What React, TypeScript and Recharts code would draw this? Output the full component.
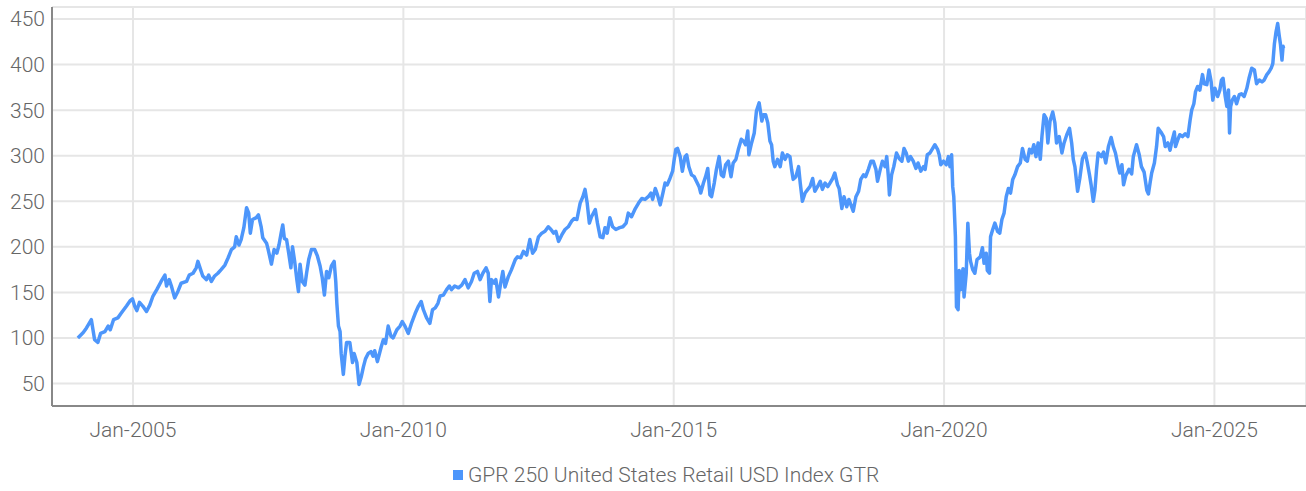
import React from "react";
import { LineChart, Line, XAxis, YAxis, CartesianGrid, Legend } from "recharts";

const SERIES_NAME = "GPR 250 United States Retail USD Index GTR";
const LINE_COLOR = "#4d96fb";

const X_TICKS = [2005, 2010, 2015, 2020, 2025];
const Y_TICKS = [50, 100, 150, 200, 250, 300, 350, 400, 450];

// time as fractional years
const times2004_2011 = [
  2003.98, 2004.08, 2004.14, 2004.23, 2004.26, 2004.29, 2004.35, 2004.4, 2004.48, 2004.54, 2004.58, 2004.64, 2004.72, 2004.78, 2004.88, 2004.95, 2004.99,
  2005.03, 2005.07, 2005.12, 2005.18, 2005.25, 2005.31, 2005.37, 2005.44, 2005.52, 2005.59, 2005.62, 2005.67, 2005.71, 2005.77, 2005.83, 2005.89, 2005.99,
  2006.04, 2006.11, 2006.17, 2006.2, 2006.25, 2006.29, 2006.36, 2006.4, 2006.45, 2006.51, 2006.57, 2006.63, 2006.7, 2006.76, 2006.82, 2006.88, 2006.91, 2006.96,
  2007.0, 2007.05, 2007.1, 2007.14, 2007.17, 2007.21, 2007.28, 2007.32, 2007.37, 2007.4, 2007.47, 2007.5, 2007.56, 2007.61, 2007.66, 2007.7, 2007.74, 2007.77, 2007.8, 2007.84, 2007.88, 2007.92, 2007.95, 2007.99,
  2008.03, 2008.06, 2008.09, 2008.13, 2008.18, 2008.21, 2008.25, 2008.3, 2008.36, 2008.41, 2008.46, 2008.5, 2008.54, 2008.58, 2008.62, 2008.67, 2008.72, 2008.75, 2008.77, 2008.8, 2008.83, 2008.85, 2008.89, 2008.92, 2008.95,
  2009.01, 2009.06, 2009.09, 2009.14, 2009.18, 2009.22, 2009.26, 2009.3, 2009.35, 2009.4, 2009.44, 2009.47, 2009.52, 2009.59, 2009.63, 2009.67, 2009.72, 2009.77, 2009.81, 2009.88, 2009.94, 2009.98,
  2010.03, 2010.09, 2010.15, 2010.22, 2010.28, 2010.33, 2010.37, 2010.43, 2010.49, 2010.54, 2010.59, 2010.64, 2010.68, 2010.74, 2010.8, 2010.85, 2010.89, 2010.95,
  2011.02, 2011.08, 2011.14, 2011.2, 2011.26,
];
const values2004_2011 = [
  100, 106, 111, 120, 109, 98, 95, 105, 107, 113, 109, 120, 122, 127, 135, 141, 143,
  135, 130, 139, 135, 129, 136, 146, 153, 162, 169, 157, 164, 157, 144, 151, 160, 162,
  169, 171, 177, 184, 175, 168, 164, 169, 162, 168, 171, 175, 180, 188, 197, 200, 211, 202,
  208, 221, 243, 237, 215, 230, 232, 235, 222, 210, 204, 197, 181, 197, 193, 202, 215, 224, 209, 208, 193, 177, 200, 184,
  164, 151, 181, 162, 158, 171, 186, 197, 197, 190, 179, 166, 147, 173, 166, 179, 184, 162, 138, 113, 107, 83, 60, 80, 95,
  95, 73, 83, 73, 49, 57, 68, 77, 83, 85, 80, 86, 74, 90, 98, 94, 113, 102, 100, 109, 113, 118,
  113, 105, 116, 127, 135, 140, 131, 122, 116, 131, 133, 138, 146, 147, 153, 157, 153, 157,
  155, 158, 164, 155, 162,
];

const times2011_2018 = [
  2011.31, 2011.37, 2011.42, 2011.47, 2011.53, 2011.57, 2011.6, 2011.63, 2011.68, 2011.71, 2011.76, 2011.8, 2011.84, 2011.88, 2011.94,
  2012.0, 2012.07, 2012.11, 2012.17, 2012.22, 2012.28, 2012.34, 2012.39, 2012.44, 2012.5, 2012.56, 2012.62, 2012.68, 2012.73, 2012.78, 2012.82, 2012.87, 2012.93, 2012.99,
  2013.05, 2013.11, 2013.16, 2013.21, 2013.27, 2013.32, 2013.36, 2013.4, 2013.44, 2013.48, 2013.55, 2013.59, 2013.64, 2013.69, 2013.73, 2013.77, 2013.82, 2013.87, 2013.93,
  2014.0, 2014.06, 2014.12, 2014.16, 2014.22, 2014.29, 2014.35, 2014.41, 2014.47, 2014.53, 2014.58, 2014.61, 2014.66, 2014.7, 2014.75, 2014.8, 2014.84, 2014.88, 2014.93, 2014.98,
  2015.01, 2015.04, 2015.07, 2015.12, 2015.16, 2015.21, 2015.24, 2015.28, 2015.33, 2015.38, 2015.42, 2015.47, 2015.5, 2015.55, 2015.59, 2015.63, 2015.67, 2015.7, 2015.75, 2015.79, 2015.84, 2015.88, 2015.92, 2015.96,
  2016.01, 2016.06, 2016.1, 2016.15, 2016.2, 2016.25, 2016.29, 2016.33, 2016.37, 2016.39, 2016.44, 2016.49, 2016.53, 2016.58, 2016.63, 2016.66, 2016.7, 2016.74, 2016.78, 2016.81, 2016.84, 2016.87, 2016.92, 2016.97,
  2017.01, 2017.06, 2017.1, 2017.15, 2017.18, 2017.21, 2017.26, 2017.31, 2017.34, 2017.38, 2017.43, 2017.48, 2017.52, 2017.57, 2017.61, 2017.66, 2017.71, 2017.75, 2017.8, 2017.85, 2017.89, 2017.94, 2017.98,
  2018.03, 2018.06, 2018.11, 2018.15, 2018.2, 2018.24, 2018.29, 2018.32, 2018.37, 2018.42, 2018.46, 2018.51, 2018.55, 2018.6, 2018.65, 2018.69, 2018.74, 2018.77, 2018.82,
];
const values2011_2018 = [
  171, 173, 164, 171, 177, 171, 140, 164, 160, 164, 145, 160, 173, 156, 167,
  175, 186, 189, 188, 195, 191, 208, 193, 197, 211, 215, 217, 222, 219, 215, 217, 206, 213, 219,
  222, 228, 231, 230, 248, 255, 263, 248, 226, 233, 241, 226, 211, 210, 221, 215, 232, 222, 219,
  221, 222, 226, 237, 233, 242, 248, 253, 252, 255, 259, 252, 264, 257, 246, 259, 270, 268, 275, 283,
  296, 307, 308, 299, 283, 299, 301, 288, 279, 277, 272, 266, 259, 270, 277, 286, 257, 255, 270, 285, 299, 279, 277, 290,
  294, 277, 292, 296, 308, 318, 316, 312, 327, 301, 314, 325, 349, 358, 338, 345, 345, 336, 316, 312, 294, 288, 296, 288,
  303, 296, 301, 299, 285, 274, 277, 288, 270, 250, 259, 263, 266, 275, 261, 266, 272, 263, 270, 266, 270, 275, 281,
  268, 264, 242, 255, 244, 252, 244, 239, 255, 261, 274, 279, 277, 285, 294, 294, 285, 272, 285,
];

const times2018_2026 = [
  2018.86, 2018.91, 2018.94, 2018.97, 2018.99, 2019.03, 2019.07, 2019.12, 2019.17, 2019.22, 2019.26, 2019.3, 2019.34, 2019.38, 2019.43, 2019.48, 2019.52, 2019.57, 2019.62, 2019.65, 2019.69, 2019.74, 2019.79, 2019.83, 2019.88, 2019.91, 2019.94, 2019.99,
  2020.04, 2020.08, 2020.11, 2020.14, 2020.16, 2020.18, 2020.21, 2020.22, 2020.23, 2020.26, 2020.28, 2020.31, 2020.35, 2020.37, 2020.41, 2020.44, 2020.47, 2020.49, 2020.53, 2020.57, 2020.61, 2020.67, 2020.71, 2020.74, 2020.78, 2020.8, 2020.84, 2020.86, 2020.9, 2020.94, 2020.99,
  2021.03, 2021.07, 2021.11, 2021.15, 2021.19, 2021.23, 2021.27, 2021.31, 2021.36, 2021.41, 2021.45, 2021.5, 2021.54, 2021.58, 2021.62, 2021.66, 2021.7, 2021.74, 2021.78, 2021.81, 2021.85, 2021.89, 2021.92, 2021.96,
  2022.01, 2022.05, 2022.08, 2022.13, 2022.18, 2022.22, 2022.27, 2022.32, 2022.36, 2022.39, 2022.42, 2022.47, 2022.51, 2022.56, 2022.61, 2022.65, 2022.69, 2022.72, 2022.76, 2022.79, 2022.82, 2022.85, 2022.91, 2022.95, 2022.99,
  2023.04, 2023.09, 2023.13, 2023.17, 2023.22, 2023.25, 2023.29, 2023.32, 2023.36, 2023.42, 2023.47, 2023.5, 2023.56, 2023.61, 2023.65, 2023.7, 2023.75, 2023.78, 2023.81, 2023.84, 2023.89, 2023.93, 2023.96,
  2024.01, 2024.06, 2024.09, 2024.14, 2024.18, 2024.22, 2024.26, 2024.28, 2024.32, 2024.36, 2024.41, 2024.46, 2024.51, 2024.55, 2024.58, 2024.62, 2024.65, 2024.69, 2024.73, 2024.78, 2024.81, 2024.86, 2024.9, 2024.94, 2024.97,
  2025.01, 2025.06, 2025.1, 2025.13, 2025.16, 2025.2, 2025.23, 2025.26, 2025.28, 2025.3, 2025.33, 2025.37, 2025.41, 2025.46, 2025.5, 2025.55, 2025.6, 2025.64, 2025.69, 2025.74, 2025.78, 2025.83, 2025.88, 2025.92, 2025.97,
  2026.01, 2026.05, 2026.08, 2026.11, 2026.14, 2026.17, 2026.2, 2026.22, 2026.25, 2026.27, 2026.28,
];
const values2018_2026 = [
  294, 288, 299, 277, 257, 279, 288, 303, 297, 294, 308, 303, 294, 299, 294, 286, 292, 283, 288, 285, 301, 303, 308, 312, 307, 301, 290, 294,
  290, 299, 288, 301, 266, 255, 211, 171, 134, 131, 174, 153, 176, 145, 171, 226, 193, 184, 175, 171, 186, 189, 199, 182, 193, 174, 171, 211, 219, 226, 217,
  215, 230, 237, 255, 264, 259, 274, 279, 288, 292, 308, 296, 294, 307, 303, 312, 299, 314, 296, 321, 345, 341, 314, 338,
  348, 336, 314, 321, 303, 314, 323, 330, 314, 296, 288, 261, 275, 297, 303, 292, 279, 268, 250, 262, 285, 303, 299, 304, 292,
  310, 320, 310, 303, 288, 281, 290, 268, 278, 285, 280, 299, 312, 301, 288, 282, 262, 258, 270, 281, 292, 310, 330,
  326, 321, 310, 314, 306, 317, 326, 310, 317, 323, 321, 324, 321, 339, 350, 357, 370, 376, 372, 389, 379, 378, 394, 381, 361,
  374, 365, 372, 383, 385, 365, 354, 372, 325, 354, 361, 365, 357, 367, 368, 365, 374, 385, 396, 394, 379, 383, 381, 383, 389,
  392, 396, 401, 423, 436, 445, 431, 423, 405, 420, 418,
];

const allTimes = [...times2004_2011, ...times2011_2018, ...times2018_2026];
const allValues = [...values2004_2011, ...values2011_2018, ...values2018_2026];
const data = allTimes.map((t, i) => ({ t, v: allValues[i] }));

const FONT = "Roboto, 'Noto Sans', sans-serif";
const TEXT_COLOR = "#666666";

const renderLegend = () => (
  <div
    style={{
      height: 32,
      display: "flex",
      alignItems: "center",
      paddingLeft: 453,
      fontFamily: FONT,
      fontSize: 21,
      fontWeight: 300,
      color: TEXT_COLOR,
      boxSizing: "border-box",
    }}
  >
    <span style={{ display: "inline-block", width: 10, height: 10, background: LINE_COLOR, marginRight: 5 }} />
    <span>{SERIES_NAME}</span>
  </div>
);

export default function App() {
  return (
    <div style={{ position: "absolute", left: 0, top: 0, width: 1306, height: 491, background: "#fff" }}>
      <LineChart width={1306} height={491} data={data} margin={{ top: 7, right: 0, bottom: 0, left: 0 }}>
        <CartesianGrid stroke="#e6e6e6" strokeWidth={2} />
        <XAxis
          dataKey="t"
          type="number"
          domain={[2003.502, 2026.694]}
          ticks={X_TICKS}
          allowDataOverflow
          tickFormatter={(v: number) => `Jan-${v}`}
          height={53}
          tickLine={false}
          tickSize={6}
          tickMargin={10}
          axisLine={{ stroke: "#888", strokeWidth: 2 }}
          tick={{ fontFamily: FONT, fontSize: 21, fontWeight: 300, fill: TEXT_COLOR }}
        />
        <YAxis
          type="number"
          domain={[25.3, 463.2]}
          ticks={Y_TICKS}
          allowDataOverflow
          width={52}
          tickLine={false}
          tickSize={6}
          tickMargin={1}
          axisLine={{ stroke: "#888", strokeWidth: 2 }}
          tick={{ fontFamily: FONT, fontSize: 21, fontWeight: 300, fill: TEXT_COLOR }}
        />
        <Legend
          verticalAlign="bottom"
          content={renderLegend}
          wrapperStyle={{ left: 0, width: 1306, bottom: 0 }}
        />
        <Line
          type="linear"
          dataKey="v"
          name={SERIES_NAME}
          stroke={LINE_COLOR}
          strokeWidth={3.5}
          dot={false}
          isAnimationActive={false}
          strokeLinejoin="round"
        />
      </LineChart>
    </div>
  );
}
